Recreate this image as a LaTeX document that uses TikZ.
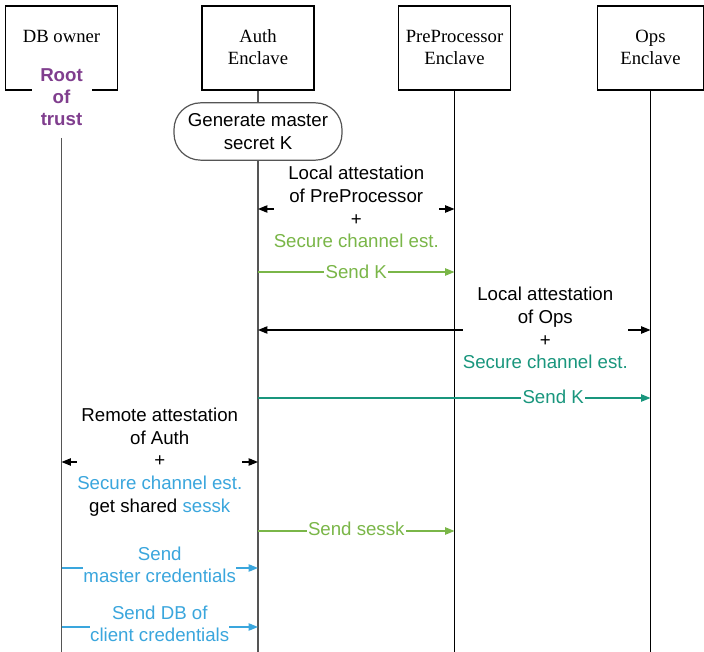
\documentclass[tikz,border=0pt]{standalone}
\usepackage{fontspec}
\setmainfont{Liberation Serif}
\setsansfont{Liberation Sans}
\usetikzlibrary{arrows.meta}
\definecolor{cgreen}{HTML}{7AB648}
\definecolor{cteal}{HTML}{19967D}
\definecolor{cblue}{HTML}{3AA6DD}
\definecolor{cpurple}{HTML}{803E8E}
\definecolor{cgray}{HTML}{555555}
\begin{document}
\begin{tikzpicture}[x=0.75pt,y=-0.75pt,
  font=\fontsize{14}{17}\selectfont,
  >={Triangle[length=7pt,width=5.5pt]},
  hdr/.style={draw, line width=0.9pt, minimum width=84pt, minimum height=63pt, align=center, inner sep=0pt,
    font=\rmfamily\fontsize{14}{16.5}\selectfont},
  lifeg/.style={draw=cgray, line width=0.9pt},
  lifeb/.style={draw=black, line width=0.9pt},
  msg/.style={fill=white, inner sep=0pt, align=center, font=\sffamily\fontsize{14}{17}\selectfont},
  conn/.style={line width=0.9pt},
]
\useasboundingbox (0,0) rectangle (704,652);
% header boxes
\node[hdr] (db) at (61.5,48) {\raisebox{1.5pt}{DB owner}\\[-1pt]\phantom{x}};
\node[hdr] (auth) at (258,48) {\raisebox{1.5pt}{Auth}\\\raisebox{1.5pt}{Enclave}};
\node[hdr] (pre) at (454.5,48) {\raisebox{1.5pt}{PreProcessor}\\\raisebox{1.5pt}{Enclave}};
\node[hdr, minimum width=80pt] (ops) at (650.5,48) {\raisebox{1.5pt}{Ops}\\\raisebox{1.5pt}{Enclave}};
% lifeline ends
\coordinate (dbend) at (61.5,652);
\coordinate (authend) at (258,652);
\coordinate (preend) at (454.5,652);
\coordinate (opsend) at (650.5,652);
% root of trust
\node[fill=white, text=cpurple, align=center, minimum width=45pt, minimum height=60pt, inner sep=0pt,
  font=\sffamily\bfseries\fontsize{14}{16.5}\selectfont] (root) at (61.5,97.5) {Root\\of\\trust};
% lifelines
\draw[lifeg] (root.south) -- (dbend);
\draw[lifeg] (auth.south) -- (authend);
\draw[lifeb] (pre.south) -- (preend);
\draw[lifeb] (ops.south) -- (opsend);
% generate node
\node[draw=cgray, line width=0.9pt, fill=white, rounded corners=20pt, minimum width=126pt, minimum height=43pt,
  align=center, inner sep=0pt, font=\sffamily\fontsize{14}{17}\selectfont] (gen) at (258,131.5) {Generate master\\secret K};
% message coordinates
\coordinate (a1) at (258,209);   \coordinate (p1) at (454.5,209);
\coordinate (a2) at (258,272);   \coordinate (p2) at (454.5,272);
\coordinate (a3) at (258,330);   \coordinate (o3) at (650.5,330);
\coordinate (a4) at (258,398);   \coordinate (o4) at (650.5,398);
\coordinate (d5) at (61.5,462);  \coordinate (a5) at (258,462);
\coordinate (a6) at (258,531);   \coordinate (p6) at (454.5,531);
\coordinate (d7) at (61.5,568);  \coordinate (a7) at (258,568);
\coordinate (d8) at (61.5,627);  \coordinate (a8) at (258,627);
% messages
\draw[conn, <->] (a1) -- (p1)
  node[msg, midway, yshift=1.5pt] (m1) {Local attestation\\of PreProcessor\\+\\\textcolor{cgreen}{Secure channel est.}};
\draw[conn, draw=cgreen, ->, fill=cgreen] (a2) -- (p2)
  node[msg, midway, text=cgreen, inner xsep=1pt, yshift=0.5pt] (m2) {Send K};
\draw[conn, <->] (a3) -- (o3)
  node[msg, pos=0.732, yshift=1.5pt] (m3) {Local attestation\\of Ops\\+\\\textcolor{cteal}{Secure channel est.}};
\draw[conn, draw=cteal, ->, fill=cteal] (a4) -- (o4)
  node[msg, pos=0.752, text=cteal, inner xsep=1pt, yshift=1pt] (m4) {Send K};
\draw[conn, <->] (d5) -- (a5)
  node[msg, midway, yshift=0pt] (m5) {Remote attestation\\of Auth\\+\\\textcolor{cblue}{Secure channel est.}\\get shared \textcolor{cblue}{sessk}};
\draw[conn, draw=cgreen, ->, fill=cgreen] (a6) -- (p6)
  node[msg, midway, text=cgreen, inner xsep=1pt, yshift=2pt] (m6) {Send sessk};
\draw[conn, draw=cblue, ->, fill=cblue] (d7) -- (a7)
  node[msg, midway, text=cblue, yshift=2.5pt] (m7) {Send\\master credentials};
\draw[conn, draw=cblue, ->, fill=cblue] (d8) -- (a8)
  node[msg, midway, text=cblue, yshift=2.5pt] (m8) {Send DB of\\client credentials};
\end{tikzpicture}
\end{document}
